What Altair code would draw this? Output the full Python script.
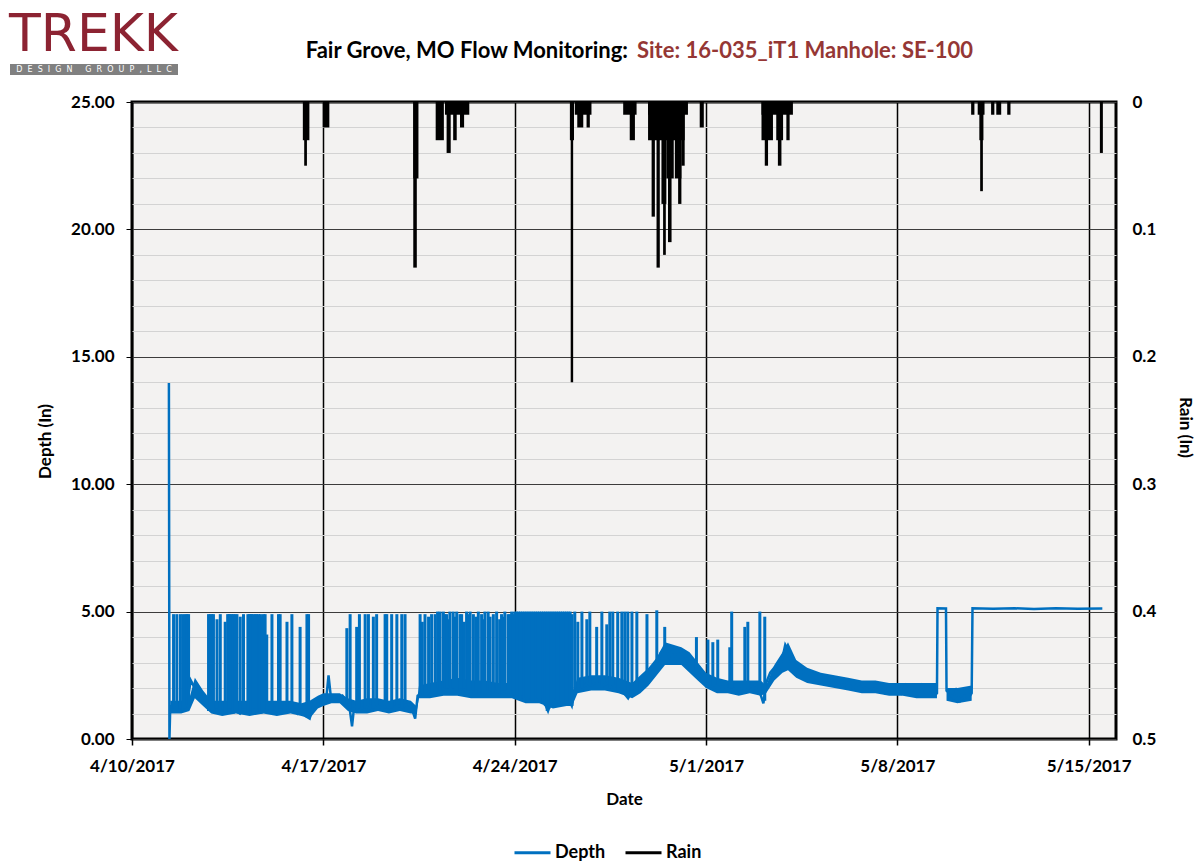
import altair as alt
import pandas as pd

START = pd.Timestamp("2017-04-10")
BLUE = "#0070C0"
RED = "#953735"

# ---------------- data (days since 4/10/2017 00:00) ----------------
depth_days = [
    1.35, 1.37, 1.40, 1.6, 1.8, 2.0, 2.15, 2.3, 2.45, 2.6, 2.75, 2.9,
    3.05, 3.2, 3.35, 3.5, 3.65, 3.8, 3.95, 4.1, 4.25, 4.4, 4.55, 4.7, 4.85,
    5.0, 5.15, 5.3, 5.45, 5.6, 5.75, 5.9, 6.05, 6.2, 6.35, 6.5, 6.65, 6.8, 6.95,
    7.1, 7.19, 7.28, 7.4, 7.55, 7.7, 7.85, 7.95, 8.05, 8.12, 8.25, 8.4, 8.55, 8.7, 8.85,
    9.0, 9.15, 9.3, 9.45, 9.6, 9.75, 9.9, 10.05, 10.2, 10.36, 10.45, 10.6, 10.75, 10.9,
    11.05, 11.2, 11.35, 11.5, 11.65, 11.8, 11.95, 12.1, 12.25, 12.4, 12.55, 12.7, 12.85,
    13.0, 13.15, 13.3, 13.45, 13.6, 13.75, 13.9, 14.05, 14.2, 14.35, 14.5, 14.65, 14.8, 14.95,
    15.1, 15.22, 15.35, 15.5, 15.65, 15.8, 15.95, 16.09, 16.2, 16.35, 16.5, 16.65, 16.8, 16.95,
    17.1, 17.25, 17.4, 17.55, 17.7, 17.85, 18.0, 18.15, 18.3, 18.45, 18.6, 18.75, 18.9,
    19.05, 19.2, 19.35, 19.5, 19.65, 19.8, 19.95, 20.1, 20.25, 20.4, 20.55, 20.7, 20.85,
    21.0, 21.15, 21.3, 21.45, 21.6, 21.75, 21.9, 22.05, 22.2, 22.35, 22.5, 22.65, 22.8, 22.95,
    23.1, 23.2, 23.35, 23.5, 23.65, 23.8, 23.9, 24.0, 24.1, 24.25, 24.4, 24.55, 24.7, 24.85,
    25.0, 25.15, 25.3, 25.45, 25.6, 25.75, 25.9, 26.05, 26.2, 26.35, 26.5, 26.65, 26.8, 26.95,
    27.1, 27.25, 27.4, 27.55, 27.7, 27.85, 28.0, 28.15, 28.3, 28.45, 28.6, 28.75, 28.9,
    29.05, 29.2, 29.35, 29.45, 29.47, 29.78, 29.80, 29.9, 30.05, 30.15, 30.3, 30.45, 30.6, 30.72,
    30.75, 31.5, 32.3, 33.0, 33.8, 34.6, 35.5,
]
depth_vals = [
    13.97, 0.0, 1.3, 1.2, 1.1, 1.3, 2.3, 2.0, 1.7, 1.5, 1.3, 1.2,
    1.1, 1.2, 1.0, 1.1, 1.2, 1.1, 1.0, 1.2, 1.1, 1.3, 1.1, 1.2, 1.1,
    1.2, 1.3, 1.1, 1.2, 1.3, 1.1, 1.2, 1.0, 1.2, 0.9, 0.8, 1.4, 1.5, 1.4,
    1.5, 2.5, 1.6, 1.7, 1.6, 1.7, 1.5, 1.3, 0.5, 1.2, 1.3, 1.2, 1.3, 1.2, 1.4,
    1.3, 1.2, 1.3, 1.2, 1.4, 1.3, 1.2, 1.4, 1.3, 0.8, 1.7, 1.8, 1.7, 1.9,
    1.8, 2.0, 1.9, 2.0, 2.1, 2.0, 1.9, 2.0, 1.8, 1.9, 1.8, 1.9, 1.8,
    1.9, 1.8, 1.9, 1.8, 1.9, 1.8, 1.9, 1.7, 1.6, 1.7, 1.5, 1.6, 1.5, 1.6,
    1.4, 1.1, 1.5, 1.6, 1.4, 1.5, 1.6, 1.3, 2.0, 2.1, 2.0, 2.2, 2.1, 2.2,
    2.3, 2.1, 2.2, 2.0, 2.1, 1.9, 1.8, 1.6, 1.9, 1.8, 2.2, 2.4, 2.6,
    2.8, 3.0, 3.4, 3.6, 3.2, 3.5, 3.1, 3.4, 3.2, 2.9, 3.0, 2.6, 2.4,
    2.2, 2.1, 2.0, 2.2, 2.0, 2.1, 2.0, 2.1, 1.9, 2.0, 1.9, 2.1, 2.0, 1.9,
    1.4, 2.2, 2.6, 2.8, 2.7, 3.2, 3.7, 3.5, 3.1, 2.9, 2.8, 2.6, 2.5, 2.6,
    2.4, 2.5, 2.3, 2.4, 2.2, 2.3, 2.2, 2.1, 2.2, 2.0, 2.1, 2.2, 2.0, 1.9,
    2.0, 1.9, 2.0, 1.8, 2.0, 1.9, 2.0, 1.8, 2.1, 1.8, 2.0, 1.8, 2.1,
    1.8, 2.0, 1.7, 1.8, 5.13, 5.12, 1.9, 1.8, 1.6, 1.9, 1.5, 1.7, 1.6, 1.8,
    5.13, 5.11, 5.13, 5.10, 5.13, 5.11, 5.12,
]

# noise envelope of the depth trace (low / high edge of the jittery band)
band_days = [
    1.40, 1.8, 2.1, 2.3, 2.6, 2.9, 3.3, 3.8, 4.3, 4.8,
    5.3, 5.8, 6.2, 6.5, 6.8, 7.0, 7.3, 7.6, 7.9, 8.2,
    8.6, 9.0, 9.4, 9.8, 10.2, 10.4, 10.5, 10.9, 11.4, 11.9,
    12.4, 12.9, 13.4, 13.9, 14.4, 14.9, 15.4, 15.9, 16.1, 16.3,
    16.8, 17.3, 17.8, 18.3, 18.6, 18.9, 19.2, 19.5, 19.8, 20.1,
    20.4, 20.7, 21.0, 21.4, 21.8, 22.2, 22.6, 23.0, 23.2, 23.5,
    23.8, 24.0, 24.3, 24.7, 25.2, 25.7, 26.2, 26.7, 27.2, 27.7,
    28.2, 28.7, 29.2, 29.45, 29.8, 30.2, 30.72,
]
band_lo = [
    1.0, 1.0, 1.1, 1.6, 1.3, 1.0, 0.9, 1.0, 0.9, 1.0,
    0.9, 1.0, 0.9, 0.8, 1.2, 1.3, 1.4, 1.4, 1.1, 1.0,
    1.0, 1.1, 1.0, 1.1, 1.0, 1.0, 1.6, 1.6, 1.7, 1.7,
    1.6, 1.6, 1.6, 1.6, 1.4, 1.4, 1.2, 1.3, 1.3, 1.8,
    1.9, 1.9, 1.8, 1.6, 1.8, 2.1, 2.5, 2.9, 2.9, 2.9,
    2.6, 2.3, 2.0, 1.8, 1.8, 1.7, 1.8, 1.7, 1.8, 2.3,
    2.6, 2.7, 2.4, 2.2, 2.1, 2.0, 1.9, 1.8, 1.8, 1.7,
    1.7, 1.6, 1.6, 1.6, 1.5, 1.4, 1.5,
]
band_hi = [
    1.5, 1.5, 1.6, 2.4, 1.9, 1.5, 1.5, 1.5, 1.5, 1.5,
    1.5, 1.5, 1.4, 1.5, 1.7, 1.8, 1.8, 1.8, 1.6, 1.5,
    1.6, 1.6, 1.5, 1.6, 1.5, 1.3, 2.1, 2.2, 2.3, 2.4,
    2.3, 2.3, 2.2, 2.2, 2.0, 2.0, 1.9, 1.9, 1.8, 2.4,
    2.5, 2.5, 2.4, 2.2, 2.5, 2.8, 3.2, 3.8, 3.7, 3.6,
    3.4, 3.0, 2.6, 2.4, 2.3, 2.3, 2.3, 2.3, 2.1, 2.9,
    3.4, 3.8, 3.1, 2.8, 2.6, 2.5, 2.4, 2.3, 2.3, 2.2,
    2.2, 2.2, 2.2, 2.2, 2.0, 2.0, 2.1,
]

# short depth surges (time, low, peak)
spike_days = [
    1.52, 1.64, 1.77, 1.86, 1.95, 2.01, 2.07, 2.80, 2.86, 2.92, 2.98, 3.11, 3.23, 3.41, 3.50,
    3.55, 3.59, 3.65, 3.71, 3.77, 3.84, 3.96, 4.08, 4.24, 4.30, 4.34, 4.38, 4.44, 4.51, 4.56,
    4.63, 4.70, 4.75, 4.81, 4.87, 4.93, 5.12, 5.36, 5.42, 5.67, 5.85, 6.15, 6.40, 6.46,
    7.86, 7.98, 8.22, 8.32, 8.53, 8.65, 8.83, 8.95, 9.26, 9.32, 9.50, 9.69, 9.87, 9.99,
    10.54, 10.62, 10.72, 10.85, 10.96, 11.09, 11.18, 11.27, 11.39, 11.45, 11.51, 11.57, 11.63,
    11.75, 11.82, 11.88, 12.00, 12.06, 12.15, 12.24, 12.30, 12.37, 12.49, 12.58, 12.67, 12.79,
    12.85, 12.91, 13.03, 13.10, 13.22, 13.34, 13.45, 13.52, 13.58, 13.64, 13.76, 13.82, 13.89, 13.95,
    14.00, 14.07, 14.14, 14.21, 14.28, 14.35, 14.42, 14.49, 14.56, 14.63, 14.70, 14.77, 14.84,
    14.91, 14.98, 15.05, 15.12, 15.19, 15.26, 15.33, 15.40, 15.47, 15.54, 15.61, 15.68, 15.75,
    15.82, 15.89, 15.96, 16.03, 16.10,
    16.20, 16.31, 16.46, 16.64, 16.75, 17.00, 17.19, 17.37, 17.48, 17.59, 17.77, 17.92, 18.03,
    18.14, 18.29, 18.47, 18.84, 19.20,
    19.49, 20.65, 21.07, 21.25, 21.43, 21.87, 21.94, 22.42, 22.53, 22.97, 23.15,
]
spike_low = [
    1.2, 1.1, 1.2, 1.1, 1.2, 1.3, 1.3, 1.1, 1.2, 1.1, 1.1, 1.2, 1.1, 1.0, 1.1,
    1.0, 1.2, 1.1, 1.0, 1.1, 1.1, 1.1, 1.2, 1.0, 1.0, 1.1, 1.1, 1.0, 1.2, 1.1,
    1.1, 1.0, 1.0, 1.1, 1.2, 1.1, 1.1, 1.2, 1.2, 1.3, 1.1, 1.2, 1.1, 1.2,
    1.4, 1.2, 1.3, 1.2, 1.2, 1.3, 1.2, 1.3, 1.2, 1.3, 1.2, 1.3, 1.2, 1.4,
    1.7, 1.8, 1.7, 1.9, 1.8, 1.8, 2.0, 1.9, 1.9, 2.0, 2.0, 2.0, 2.1,
    2.0, 2.0, 1.9, 1.9, 2.0, 2.0, 1.8, 1.9, 1.9, 1.9, 1.8, 1.9, 1.8,
    1.8, 1.8, 1.9, 1.9, 1.8, 1.9, 1.8, 1.8, 1.9, 1.9, 1.8, 1.8, 1.9, 1.9,
    1.7, 1.6, 1.7, 1.6, 1.7, 1.5, 1.6, 1.5, 1.6, 1.5, 1.6, 1.5, 1.6,
    1.5, 1.6, 1.4, 1.3, 1.1, 1.2, 1.4, 1.5, 1.6, 1.5, 1.4, 1.5, 1.5,
    1.6, 1.4, 1.5, 1.3, 1.3,
    2.0, 2.1, 2.0, 2.2, 2.1, 2.2, 2.1, 2.2, 2.0, 2.1, 1.9, 1.8, 1.8,
    1.7, 1.9, 1.8, 2.6, 3.0,
    3.4, 2.7, 2.2, 2.1, 2.1, 2.0, 2.0, 1.9, 1.9, 1.9, 1.5,
]
spike_high = [
    4.9, 4.9, 4.9, 4.9, 4.9, 4.9, 4.9, 4.9, 4.9, 4.9, 4.9, 4.7, 4.9, 4.6, 4.9,
    4.9, 4.9, 4.9, 4.9, 4.9, 4.9, 4.8, 4.9, 4.9, 4.9, 4.9, 4.9, 4.9, 4.9, 4.9,
    4.9, 4.9, 4.8, 4.9, 4.9, 4.1, 4.9, 4.9, 4.9, 4.6, 4.9, 4.4, 4.9, 4.9,
    4.35, 4.9, 4.4, 4.9, 4.9, 4.9, 4.8, 4.9, 4.9, 4.9, 4.9, 4.9, 4.9, 4.9,
    4.9, 4.6, 4.9, 4.8, 4.9, 4.9, 5.0, 5.0, 5.0, 4.9, 4.9, 4.7, 5.0,
    5.0, 4.8, 5.0, 4.9, 4.9, 4.6, 5.0, 4.9, 5.0, 4.9, 4.8, 5.0, 4.9,
    4.7, 5.0, 5.0, 4.8, 4.9, 5.0, 4.7, 4.9, 4.8, 5.0, 4.9, 4.9, 5.0, 4.9,
    5.0, 5.0, 5.0, 5.0, 5.0, 5.0, 5.0, 5.0, 5.0, 5.0, 5.0, 5.0, 5.0,
    5.0, 5.0, 5.0, 5.0, 5.0, 5.0, 5.0, 5.0, 5.0, 5.0, 5.0, 5.0, 5.0,
    5.0, 5.0, 5.0, 5.0, 4.9,
    5.0, 4.6, 5.0, 4.7, 5.0, 4.4, 5.0, 4.5, 5.0, 5.0, 5.0, 5.0, 5.0,
    5.0, 5.0, 5.0, 4.9, 5.05,
    4.4, 4.0, 3.9, 3.8, 3.9, 3.6, 5.0, 4.4, 4.6, 5.0, 4.8,
]

# rain (start, end, inches)
rain_start = [6.25, 6.30, 6.98, 10.29, 10.29, 11.11, 11.45, 11.51, 11.75, 12.00,
              16.02, 16.05, 16.20, 16.29, 16.63, 17.97, 18.21,
              18.88, 18.88, 19.01, 19.19, 19.37, 19.43, 19.55, 19.61, 19.86, 19.98, 20.10,
              20.77, 23.03, 23.03, 23.15, 23.57, 23.63, 23.94,
              30.70, 30.94, 31.00, 31.03, 31.43, 31.62, 32.02, 35.41]
rain_end = [6.49, 6.40, 7.22, 10.48, 10.42, 11.41, 12.34, 11.66, 11.88, 12.15,
            16.17, 16.14, 16.81, 16.51, 16.75, 18.46, 18.40,
            20.34, 20.22, 19.13, 19.31, 19.55, 19.53, 19.82, 19.74, 20.10, 20.10, 20.22,
            20.92, 24.18, 23.45, 23.27, 23.82, 23.76, 24.06,
            30.82, 31.19, 31.15, 31.13, 31.55, 31.80, 32.14, 35.52]
rain_in = [0.03, 0.05, 0.02, 0.06, 0.13, 0.03, 0.01, 0.04, 0.03, 0.02,
           0.03, 0.22, 0.01, 0.02, 0.02, 0.01, 0.03,
           0.01, 0.03, 0.09, 0.13, 0.08, 0.12, 0.06, 0.11, 0.06, 0.08, 0.05,
           0.02, 0.01, 0.03, 0.05, 0.03, 0.05, 0.03,
           0.01, 0.01, 0.03, 0.07, 0.01, 0.01, 0.01, 0.04]

week_ticks = [(2017, 4, 10), (2017, 4, 17), (2017, 4, 24), (2017, 5, 1), (2017, 5, 8), (2017, 5, 15)]
x_domain = [(2017, 4, 10), (2017, 5, 16)]
depth_ticks = list(range(0, 26))
rain_ticks = [0, 0.1, 0.2, 0.3, 0.4, 0.5]
series_names = ["Depth", "Rain"]
series_colors = [BLUE, "#000000"]

assert len(depth_days) == len(depth_vals)
assert len(band_days) == len(band_lo) == len(band_hi)
assert len(spike_days) == len(spike_low) == len(spike_high)
assert len(rain_start) == len(rain_end) == len(rain_in)


def ts(d):
    return (START + pd.Timedelta(days=d)).strftime("%Y-%m-%dT%H:%M:%S")


depth_df = pd.DataFrame({"t": [ts(d) for d in depth_days], "depth": depth_vals,
                         "series": ["Depth"] * len(depth_vals)})
band_df = pd.DataFrame({"t": [ts(d) for d in band_days], "lo": band_lo, "hi": band_hi,
                        "seg": [1 if d < 29.6 else 2 for d in band_days]})
spike_df = pd.DataFrame({"t": [ts(d) for d in spike_days], "lo": spike_low, "hi": spike_high})
rain_df = pd.DataFrame({"t": [ts(d) for d in rain_start], "t2": [ts(d) for d in rain_end],
                        "rain": rain_in, "zero": [0.0] * len(rain_in)})
one = pd.DataFrame({"k": [0]})

# ---------------- scales & axes ----------------
x_scale = alt.Scale(domain=[alt.DateTime(year=y, month=m, date=d) for (y, m, d) in x_domain], nice=False)
x_axis = alt.Axis(
    values=[alt.DateTime(year=y, month=m, date=d) for (y, m, d) in week_ticks],
    format="%-m/%-d/%Y", title="Date", grid=True, gridColor="black", gridWidth=1.5,
    gridOpacity=1, tickSize=6, tickColor="black", tickWidth=1.5, domain=False,
    labelPadding=13, labelFlush=False, labelOverlap=False, titlePadding=17,
)
X = alt.X("t:T", scale=x_scale, axis=x_axis)

major = "datum.value % 5 === 0"
depth_scale = alt.Scale(domain=[0, 25], nice=False, zero=True)
depth_axis = alt.Axis(
    values=depth_ticks, title="Depth (In)", orient="left",
    labelExpr="datum.value % 5 === 0 ? format(datum.value, '.2f') : ''",
    grid=True, gridWidth=1, gridOpacity=1,
    gridColor={"condition": {"test": major, "value": "#3c3c3c"}, "value": "#d3d3d3"},
    tickOpacity={"condition": {"test": major, "value": 1}, "value": 0},
    tickSize=6, tickColor="black", domain=False, labelPadding=12,
    labelOverlap=False, titlePadding=16, titleY=339,
)
rain_scale = alt.Scale(domain=[0, 0.5], reverse=True, nice=False)
rain_axis = alt.Axis(
    values=rain_ticks, orient="right", title="Rain (In)", grid=False, ticks=False,
    domain=False, labelPadding=16, labelOverlap=False,
    labelExpr="datum.value === 0 ? '0' : format(datum.value, '.1f')",
    titlePadding=20, titleY=325,
)

legend = alt.Legend(
    title=None, orient="none", legendX=381, legendY=731, direction="horizontal",
    symbolType="stroke", symbolStrokeWidth=3, symbolSize=1296,
    labelFont="Lato", labelFontSize=18, labelFontWeight="bold", labelColor="black",
    labelOffset=3, columnPadding=13, padding=0,
)

band = alt.Chart(band_df).mark_area(color=BLUE, opacity=1).encode(
    x=X,
    y=alt.Y("lo:Q", scale=depth_scale, axis=depth_axis),
    y2="hi:Q",
    detail="seg:N",
)
depth_line = alt.Chart(depth_df).mark_line(strokeWidth=2.5, strokeJoin="miter").encode(
    x=X,
    y=alt.Y("depth:Q", scale=depth_scale, axis=depth_axis),
    color=alt.Color("series:N", scale=alt.Scale(domain=series_names, range=series_colors),
                    legend=legend),
)
spikes = alt.Chart(spike_df).mark_rule(strokeWidth=3, color=BLUE).encode(
    x=X,
    y=alt.Y("lo:Q", scale=depth_scale, axis=depth_axis),
    y2="hi:Q",
)
depth_group = alt.layer(band, depth_line, spikes)

rain = alt.Chart(rain_df).mark_rect(color="black").encode(
    x=X,
    x2="t2:T",
    y=alt.Y("rain:Q", scale=rain_scale, axis=rain_axis),
    y2="zero:Q",
)

# ---------------- title & logo (pixel positions relative to plot area) ----------------
title_black = alt.Chart(one).mark_text(
    text="Fair Grove, MO Flow Monitoring:", align="right", baseline="alphabetic",
    font="Lato", fontWeight="bold", fontSize=22, color="black",
).encode(x=alt.value(496), y=alt.value(-44))
title_red = alt.Chart(one).mark_text(
    text="Site: 16-035_iT1 Manhole: SE-100", align="left", baseline="alphabetic",
    font="Lato", fontWeight="bold", fontSize=22, color=RED,
).encode(x=alt.value(505), y=alt.value(-44))

logo_text = alt.Chart(one).mark_text(
    text="TREKK", align="left", baseline="alphabetic",
    font="DejaVu Sans", fontSize=52, color="#8c2332",
).encode(x=alt.value(-123), y=alt.value(-51))
logo_bar = alt.Chart(one).mark_rect(color="#808080").encode(
    x=alt.value(-122), x2=alt.value(46), y=alt.value(-38), y2=alt.value(-27)
)
NB = "\u00a0"
sub_txt = (NB * 2).join("DESIGN") + NB * 5 + (NB * 2).join("GROUP,LLC")
logo_sub = alt.Chart(one).mark_text(
    text=sub_txt, align="center", baseline="middle",
    font="DejaVu Sans", fontSize=8, color="white",
).encode(x=alt.value(-38), y=alt.value(-32.5))

chart = (
    alt.layer(depth_group, rain, title_black, title_red, logo_text, logo_bar, logo_sub)
    .resolve_scale(y="independent")
    .properties(
        width=984, height=637,
        padding={"left": 132, "top": 102, "right": 82, "bottom": 122},
        autosize=alt.AutoSizeParams(type="none"),
        background="white",
    )
    .configure_view(fill="#f3f2f1", stroke="black", strokeWidth=3)
    .configure_axis(
        labelFont="Lato", labelFontSize=17, labelFontWeight="bold", labelColor="black",
        titleFont="Lato", titleFontSize=17, titleFontWeight="bold", titleColor="black",
    )
)

chart.save("out.html", embed_options={"renderer": "svg", "actions": False})
